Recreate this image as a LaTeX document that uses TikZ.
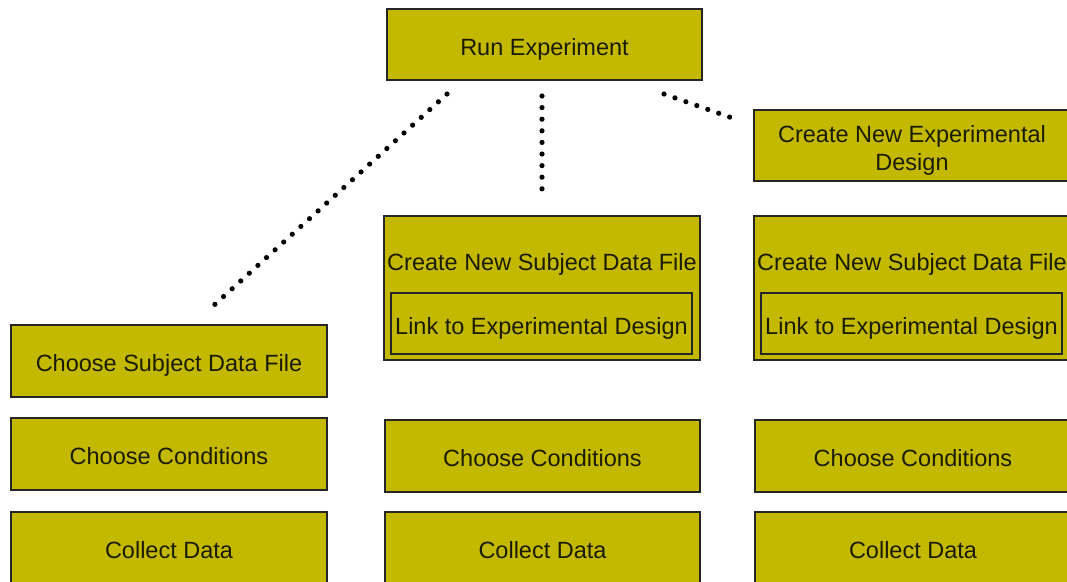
\documentclass[tikz,border=0pt]{standalone}
\usepackage{fontspec}
\setmainfont{Liberation Sans}
\definecolor{boxfill}{RGB}{194,185,0}
\definecolor{txt}{RGB}{30,28,0}
\begin{document}
\begin{tikzpicture}[x=1pt,y=-1pt,
  box/.style={draw=black!85, line width=1.5pt, fill=boxfill, text=txt,
    font=\fontsize{23.5}{28}\selectfont, minimum width=316pt, minimum height=72pt,
    anchor=north west, inner sep=0pt, outer sep=0pt, align=center,
    text height=21pt, text depth=0pt},
  bigbox/.style={box, minimum height=144pt},
  innerbox/.style={box, minimum width=301pt, minimum height=61pt},
  plain/.style={text=txt, font=\fontsize{23.5}{28}\selectfont, inner sep=0pt, anchor=base},
  dotline/.style={draw=black, line width=5.2pt, line cap=round, dash pattern=on 0pt off 11.6pt}]
\useasboundingbox (0,0) rectangle (1067,581);
\clip (0,0) rectangle (1067,581);
\fill[white] (0,0) rectangle (1067,581);

% top
\node[box, minimum width=315pt, minimum height=71pt] (run) at (387,9) {Run Experiment};
\node[box, minimum height=71pt, text height=, text depth=] (design) at (754,110)
  {\rule{0pt}{26pt}Create New Experimental\\Design};

% middle column
\node[bigbox] (cs2) at (384,216) {};
\node[plain] (cs2t) at (542,270.5) {Create New Subject Data File};
\node[innerbox] (lk2) at (391,293) {Link to Experimental Design};

% right column
\node[bigbox] (cs3) at (754,216) {};
\node[plain] (cs3t) at (912,270.5) {Create New Subject Data File};
\node[innerbox] (lk3) at (761,293) {Link to Experimental Design};

% left column
\node[box] (choose1) at (11,325) {Choose Subject Data File};
\node[box] (cond1) at (11,418) {Choose Conditions};
\node[box] (coll1) at (11,512) {Collect Data};

% middle lower
\node[box, minimum width=315pt] (cond2) at (385,420) {Choose Conditions};
\node[box, minimum width=315pt] (coll2) at (385,512) {Collect Data};

% right lower
\node[box] (cond3) at (755,420) {Choose Conditions};
\node[box] (coll3) at (755,512) {Collect Data};

% dotted connectors
\coordinate (d1s) at (447,94);
\coordinate (d1e) at (212,307);
\coordinate (d2s) at (542,96);
\coordinate (d2e) at (542,192);
\coordinate (d3s) at (664,94);
\coordinate (d3e) at (735,119);
\draw[dotline] (d1s) -- (d1e);
\draw[dotline] (d2s) -- (d2e);
\draw[dotline] (d3s) -- (d3e);
\end{tikzpicture}
\end{document}
